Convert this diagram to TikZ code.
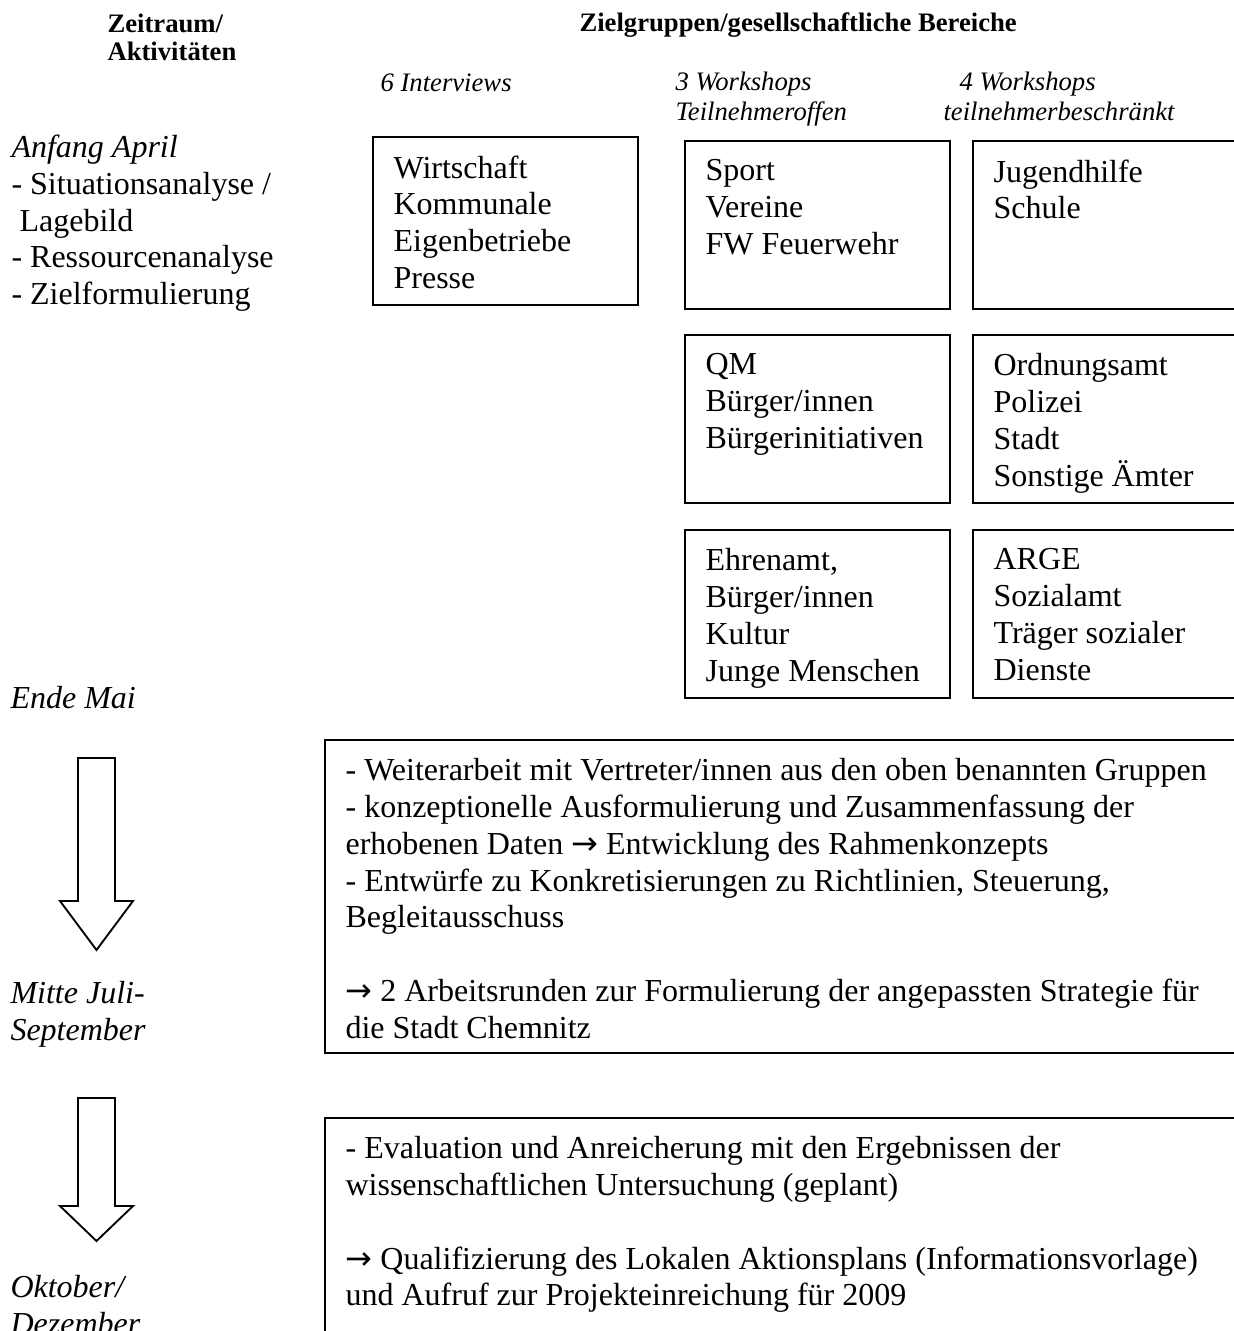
\documentclass[tikz,border=0pt]{standalone}
\usepackage{fontspec}
\setmainfont{Liberation Serif}
\newfontfamily\pfeilschrift{DejaVu Sans}
\usepackage{tikz}
\usetikzlibrary{positioning}

\newcommand{\pfeil}{{\pfeilschrift\symbol{"2192}}}

\tikzset{
  feld/.style={draw, line width=0.7pt, anchor=north west, inner sep=0pt,
    minimum width=99.4pt, minimum height=63pt},
  randfeld/.style={feld, minimum width=115pt},
  langfeld/.style={feld, minimum width=347pt},
  inhalt/.style={below right=7.1pt and 7.9pt of #1.north west, inner sep=0pt,
    align=left, font=\fontsize{12}{13.8}\selectfont, execute at begin node=\strut},
  block/.style={anchor=north west, inner sep=0pt, align=left, execute at begin node=\strut},
  zeile/.style={anchor=base west, inner sep=0pt},
  blockpfeil/.style={draw, line width=0.7pt, line join=miter}
}

\begin{document}
\begin{tikzpicture}[x=0.375pt, y=-0.375pt]
\useasboundingbox (0,0) rectangle (1234,1331);
\clip (0,0) rectangle (1234,1331);

\node[block, font=\fontsize{10}{10.5}\selectfont\bfseries] (kopfzeit) at (107,13) {Zeitraum/\\Aktivitäten};
\node[zeile, font=\fontsize{10}{11.5}\selectfont\bfseries] (kopfziel) at (579,32) {Zielgruppen/gesellschaftliche Bereiche};

\node[zeile, font=\fontsize{10}{11.5}\selectfont\itshape] (interviews) at (380,91) {6 Interviews};
\node[block, font=\fontsize{10}{11.2}\selectfont\itshape] (offen) at (675,71.5) {3 Workshops\\Teilnehmeroffen};
\node[block, font=\fontsize{10}{11.2}\selectfont\itshape] (beschraenkt) at (943,71.5) {\hspace*{6pt}4 Workshops\\teilnehmerbeschränkt};

\node[block, font=\fontsize{12}{13.8}\selectfont] (april) at (11,134.5)
  {\textit{Anfang April}\\- Situationsanalyse /\\\hspace*{3pt}Lagebild\\- Ressourcenanalyse\\- Zielformulierung};
\node[zeile, font=\fontsize{12}{13.8}\selectfont\itshape] (mai) at (10,708) {Ende Mai};
\node[block, font=\fontsize{12}{13.8}\selectfont\itshape] (juli) at (10,981) {Mitte Juli-\\September};
\node[block, font=\fontsize{12}{13.8}\selectfont\itshape] (oktober) at (10,1275) {Oktober/\\Dezember};

\node[feld] (wirtschaft) at (372,136) {};
\node[inhalt=wirtschaft] (wirtschaft-t) {Wirtschaft\\Kommunale\\Eigenbetriebe\\Presse};
\node[feld] (sport) at (684,140) {};
\node[inhalt=sport] (sport-t) {Sport\\Vereine\\FW Feuerwehr};
\node[randfeld] (jugend) at (972,140) {};
\node[inhalt=jugend] (jugend-t) {Jugendhilfe\\Schule};

\node[feld] (qm) at (684,334) {};
\node[inhalt=qm] (qm-t) {QM\\Bürger/innen\\Bürgerinitiativen};
\node[randfeld] (ordnung) at (972,334) {};
\node[inhalt=ordnung] (ordnung-t) {Ordnungsamt\\Polizei\\Stadt\\Sonstige Ämter};

\node[feld] (ehrenamt) at (684,529) {};
\node[inhalt=ehrenamt] (ehrenamt-t) {Ehrenamt,\\Bürger/innen\\Kultur\\Junge Menschen};
\node[randfeld] (arge) at (972,529) {};
\node[inhalt=arge] (arge-t) {ARGE\\Sozialamt\\Träger sozialer\\Dienste};

\node[langfeld, minimum height=117.4pt] (weiter) at (324,739) {};
\node[inhalt=weiter] (weiter-t) {- Weiterarbeit mit Vertreter/innen aus den oben benannten Gruppen\\
  - konzeptionelle Ausformulierung und Zusammenfassung der\\
  erhobenen Daten \pfeil\ Entwicklung des Rahmenkonzepts\\
  - Entwürfe zu Konkretisierungen zu Richtlinien, Steuerung,\\
  Begleitausschuss\\[13.8pt]
  \pfeil\ 2 Arbeitsrunden zur Formulierung der angepassten Strategie für\\
  die Stadt Chemnitz};

\node[langfeld, minimum height=87.4pt] (evaluation) at (324,1117) {};
\node[inhalt=evaluation] (evaluation-t) {- Evaluation und Anreicherung mit den Ergebnissen der\\
  wissenschaftlichen Untersuchung (geplant)\\[13.8pt]
  \pfeil\ Qualifizierung des Lokalen Aktionsplans (Informationsvorlage)\\
  und Aufruf zur Projekteinreichung für 2009};

\draw[blockpfeil] (78,758) -- (115,758) -- (115,901) -- (133,901) -- (96.5,950) -- (60,901) -- (78,901) -- cycle;
\draw[blockpfeil] (78,1098) -- (115,1098) -- (115,1206) -- (133,1206) -- (96.5,1241) -- (60,1206) -- (78,1206) -- cycle;
\end{tikzpicture}
\end{document}
